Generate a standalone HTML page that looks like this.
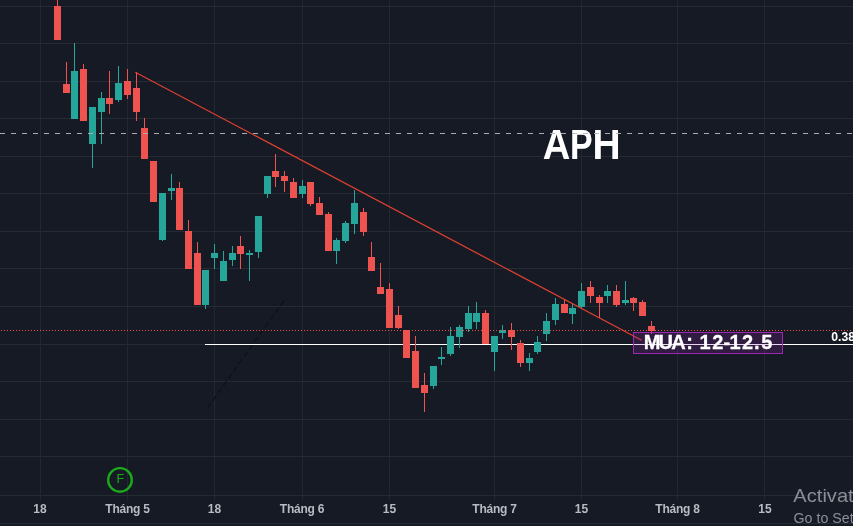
<!DOCTYPE html>
<html><head><meta charset="utf-8">
<style>
html,body{margin:0;padding:0;background:#161a25;width:853px;height:526px;overflow:hidden;}
svg{display:block;will-change:transform;}
</style></head><body>
<svg width="853" height="526" viewBox="0 0 853 526" shape-rendering="crispEdges">
<rect x="40" y="0" width="1" height="500" fill="#232732"/>
<rect x="127" y="0" width="1" height="500" fill="#232732"/>
<rect x="214" y="0" width="1" height="500" fill="#232732"/>
<rect x="302" y="0" width="1" height="500" fill="#232732"/>
<rect x="389" y="0" width="1" height="500" fill="#232732"/>
<rect x="494" y="0" width="1" height="500" fill="#232732"/>
<rect x="581" y="0" width="1" height="500" fill="#232732"/>
<rect x="677" y="0" width="1" height="500" fill="#232732"/>
<rect x="764" y="0" width="1" height="500" fill="#232732"/>
<rect x="0" y="6" width="853" height="1" fill="#262a35"/>
<rect x="0" y="43" width="853" height="1" fill="#262a35"/>
<rect x="0" y="81" width="853" height="1" fill="#262a35"/>
<rect x="0" y="118" width="853" height="1" fill="#262a35"/>
<rect x="0" y="156" width="853" height="1" fill="#262a35"/>
<rect x="0" y="193" width="853" height="1" fill="#262a35"/>
<rect x="0" y="231" width="853" height="1" fill="#262a35"/>
<rect x="0" y="268" width="853" height="1" fill="#262a35"/>
<rect x="0" y="306" width="853" height="1" fill="#262a35"/>
<rect x="0" y="344" width="853" height="1" fill="#262a35"/>
<rect x="0" y="381" width="853" height="1" fill="#262a35"/>
<rect x="0" y="419" width="853" height="1" fill="#262a35"/>
<rect x="0" y="456" width="853" height="1" fill="#262a35"/>
<rect x="0" y="495" width="853" height="1" fill="#262a35"/>
<rect x="0" y="523" width="853" height="1" fill="#262a35"/>
<line x1="284" y1="300.5" x2="205" y2="411.5" stroke="#0f1218" stroke-width="1.5" stroke-dasharray="6 3" shape-rendering="geometricPrecision"/>
<rect x="205" y="344" width="648" height="1" fill="#ffffff"/>
<rect x="57" y="0" width="1" height="40" fill="#ef5350"/>
<rect x="54" y="6" width="7" height="34" fill="#ef5350"/>
<rect x="66" y="62" width="1" height="31" fill="#ef5350"/>
<rect x="63" y="84" width="7" height="9" fill="#ef5350"/>
<rect x="74" y="43" width="1" height="76" fill="#26a69a"/>
<rect x="71" y="71" width="7" height="48" fill="#26a69a"/>
<rect x="83" y="64" width="1" height="57" fill="#ef5350"/>
<rect x="80" y="69" width="7" height="52" fill="#ef5350"/>
<rect x="92" y="107" width="1" height="61" fill="#26a69a"/>
<rect x="89" y="107" width="7" height="37" fill="#26a69a"/>
<rect x="101" y="92" width="1" height="52" fill="#26a69a"/>
<rect x="98" y="98" width="7" height="14" fill="#26a69a"/>
<rect x="109" y="71" width="1" height="43" fill="#ef5350"/>
<rect x="106" y="98" width="7" height="6" fill="#ef5350"/>
<rect x="118" y="66" width="1" height="36" fill="#26a69a"/>
<rect x="115" y="83" width="7" height="17" fill="#26a69a"/>
<rect x="127" y="69" width="1" height="30" fill="#ef5350"/>
<rect x="124" y="81" width="7" height="14" fill="#ef5350"/>
<rect x="136" y="72" width="1" height="49" fill="#ef5350"/>
<rect x="133" y="88" width="7" height="24" fill="#ef5350"/>
<rect x="144" y="118" width="1" height="41" fill="#ef5350"/>
<rect x="141" y="128" width="7" height="31" fill="#ef5350"/>
<rect x="153" y="161" width="1" height="41" fill="#ef5350"/>
<rect x="150" y="161" width="7" height="41" fill="#ef5350"/>
<rect x="162" y="193" width="1" height="48" fill="#26a69a"/>
<rect x="159" y="193" width="7" height="47" fill="#26a69a"/>
<rect x="171" y="174" width="1" height="26" fill="#26a69a"/>
<rect x="168" y="188" width="7" height="3" fill="#26a69a"/>
<rect x="179" y="182" width="1" height="48" fill="#ef5350"/>
<rect x="176" y="188" width="7" height="42" fill="#ef5350"/>
<rect x="188" y="220" width="1" height="49" fill="#ef5350"/>
<rect x="185" y="231" width="7" height="38" fill="#ef5350"/>
<rect x="197" y="242" width="1" height="63" fill="#ef5350"/>
<rect x="194" y="253" width="7" height="52" fill="#ef5350"/>
<rect x="205" y="270" width="1" height="39" fill="#26a69a"/>
<rect x="202" y="270" width="7" height="35" fill="#26a69a"/>
<rect x="214" y="244" width="1" height="25" fill="#26a69a"/>
<rect x="211" y="253" width="7" height="5" fill="#26a69a"/>
<rect x="223" y="251" width="1" height="30" fill="#26a69a"/>
<rect x="220" y="261" width="7" height="20" fill="#26a69a"/>
<rect x="232" y="246" width="1" height="20" fill="#26a69a"/>
<rect x="229" y="253" width="7" height="7" fill="#26a69a"/>
<rect x="240" y="236" width="1" height="33" fill="#ef5350"/>
<rect x="237" y="246" width="7" height="8" fill="#ef5350"/>
<rect x="249" y="250" width="1" height="31" fill="#26a69a"/>
<rect x="246" y="253" width="7" height="2" fill="#26a69a"/>
<rect x="258" y="216" width="1" height="42" fill="#26a69a"/>
<rect x="255" y="216" width="7" height="36" fill="#26a69a"/>
<rect x="267" y="176" width="1" height="22" fill="#26a69a"/>
<rect x="264" y="176" width="7" height="18" fill="#26a69a"/>
<rect x="275" y="154" width="1" height="33" fill="#ef5350"/>
<rect x="272" y="171" width="7" height="6" fill="#ef5350"/>
<rect x="284" y="171" width="1" height="21" fill="#ef5350"/>
<rect x="281" y="176" width="7" height="5" fill="#ef5350"/>
<rect x="293" y="178" width="1" height="20" fill="#ef5350"/>
<rect x="290" y="182" width="7" height="16" fill="#ef5350"/>
<rect x="302" y="180" width="1" height="18" fill="#26a69a"/>
<rect x="299" y="186" width="7" height="8" fill="#26a69a"/>
<rect x="310" y="182" width="1" height="24" fill="#ef5350"/>
<rect x="307" y="182" width="7" height="22" fill="#ef5350"/>
<rect x="319" y="197" width="1" height="18" fill="#ef5350"/>
<rect x="316" y="203" width="7" height="12" fill="#ef5350"/>
<rect x="328" y="212" width="1" height="39" fill="#ef5350"/>
<rect x="325" y="214" width="7" height="37" fill="#ef5350"/>
<rect x="336" y="238" width="1" height="26" fill="#26a69a"/>
<rect x="333" y="240" width="7" height="11" fill="#26a69a"/>
<rect x="345" y="221" width="1" height="22" fill="#26a69a"/>
<rect x="342" y="223" width="7" height="18" fill="#26a69a"/>
<rect x="354" y="190" width="1" height="44" fill="#26a69a"/>
<rect x="351" y="203" width="7" height="21" fill="#26a69a"/>
<rect x="363" y="208" width="1" height="28" fill="#ef5350"/>
<rect x="360" y="212" width="7" height="20" fill="#ef5350"/>
<rect x="371" y="242" width="1" height="29" fill="#ef5350"/>
<rect x="368" y="257" width="7" height="14" fill="#ef5350"/>
<rect x="380" y="263" width="1" height="31" fill="#ef5350"/>
<rect x="377" y="287" width="7" height="7" fill="#ef5350"/>
<rect x="389" y="283" width="1" height="45" fill="#ef5350"/>
<rect x="386" y="289" width="7" height="39" fill="#ef5350"/>
<rect x="398" y="306" width="1" height="23" fill="#ef5350"/>
<rect x="395" y="315" width="7" height="13" fill="#ef5350"/>
<rect x="406" y="330" width="1" height="28" fill="#ef5350"/>
<rect x="403" y="330" width="7" height="28" fill="#ef5350"/>
<rect x="415" y="336" width="1" height="52" fill="#ef5350"/>
<rect x="412" y="351" width="7" height="37" fill="#ef5350"/>
<rect x="424" y="373" width="1" height="39" fill="#ef5350"/>
<rect x="421" y="385" width="7" height="8" fill="#ef5350"/>
<rect x="433" y="366" width="1" height="23" fill="#26a69a"/>
<rect x="430" y="366" width="7" height="20" fill="#26a69a"/>
<rect x="441" y="347" width="1" height="18" fill="#26a69a"/>
<rect x="438" y="357" width="7" height="2" fill="#26a69a"/>
<rect x="450" y="327" width="1" height="29" fill="#26a69a"/>
<rect x="447" y="336" width="7" height="18" fill="#26a69a"/>
<rect x="459" y="325" width="1" height="23" fill="#26a69a"/>
<rect x="456" y="327" width="7" height="10" fill="#26a69a"/>
<rect x="468" y="306" width="1" height="26" fill="#26a69a"/>
<rect x="465" y="313" width="7" height="16" fill="#26a69a"/>
<rect x="476" y="302" width="1" height="27" fill="#26a69a"/>
<rect x="473" y="313" width="7" height="9" fill="#26a69a"/>
<rect x="485" y="310" width="1" height="34" fill="#ef5350"/>
<rect x="482" y="313" width="7" height="31" fill="#ef5350"/>
<rect x="494" y="336" width="1" height="35" fill="#26a69a"/>
<rect x="491" y="336" width="7" height="16" fill="#26a69a"/>
<rect x="502" y="325" width="1" height="14" fill="#26a69a"/>
<rect x="499" y="330" width="7" height="3" fill="#26a69a"/>
<rect x="511" y="323" width="1" height="27" fill="#ef5350"/>
<rect x="508" y="330" width="7" height="7" fill="#ef5350"/>
<rect x="520" y="340" width="1" height="27" fill="#ef5350"/>
<rect x="517" y="343" width="7" height="20" fill="#ef5350"/>
<rect x="529" y="353" width="1" height="18" fill="#26a69a"/>
<rect x="526" y="358" width="7" height="5" fill="#26a69a"/>
<rect x="537" y="336" width="1" height="18" fill="#26a69a"/>
<rect x="534" y="342" width="7" height="10" fill="#26a69a"/>
<rect x="546" y="313" width="1" height="28" fill="#26a69a"/>
<rect x="543" y="321" width="7" height="13" fill="#26a69a"/>
<rect x="555" y="298" width="1" height="27" fill="#26a69a"/>
<rect x="552" y="304" width="7" height="16" fill="#26a69a"/>
<rect x="564" y="300" width="1" height="13" fill="#ef5350"/>
<rect x="561" y="304" width="7" height="9" fill="#ef5350"/>
<rect x="572" y="303" width="1" height="21" fill="#26a69a"/>
<rect x="569" y="308" width="7" height="6" fill="#26a69a"/>
<rect x="581" y="283" width="1" height="26" fill="#26a69a"/>
<rect x="578" y="291" width="7" height="16" fill="#26a69a"/>
<rect x="590" y="281" width="1" height="22" fill="#ef5350"/>
<rect x="587" y="287" width="7" height="9" fill="#ef5350"/>
<rect x="599" y="295" width="1" height="23" fill="#ef5350"/>
<rect x="596" y="297" width="7" height="6" fill="#ef5350"/>
<rect x="607" y="285" width="1" height="18" fill="#26a69a"/>
<rect x="604" y="291" width="7" height="5" fill="#26a69a"/>
<rect x="616" y="285" width="1" height="22" fill="#ef5350"/>
<rect x="613" y="291" width="7" height="14" fill="#ef5350"/>
<rect x="625" y="281" width="1" height="24" fill="#26a69a"/>
<rect x="622" y="300" width="7" height="3" fill="#26a69a"/>
<rect x="633" y="297" width="1" height="14" fill="#ef5350"/>
<rect x="630" y="298" width="7" height="5" fill="#ef5350"/>
<rect x="642" y="300" width="1" height="16" fill="#ef5350"/>
<rect x="639" y="302" width="7" height="14" fill="#ef5350"/>
<rect x="651" y="321" width="1" height="13" fill="#ef5350"/>
<rect x="648" y="326" width="7" height="5" fill="#ef5350"/>
<line x1="0" y1="133.5" x2="853" y2="133.5" stroke="#a9acb3" stroke-width="1" stroke-dasharray="5 6"/>
<line x1="1" y1="330.5" x2="853" y2="330.5" stroke="#f0514a" stroke-width="1" stroke-dasharray="1 2"/>
<line x1="135.3" y1="72.2" x2="641.6" y2="340.3" stroke="#dd4030" stroke-width="1.25" shape-rendering="auto"/>
<text transform="translate(542.85,159) scale(0.9,1)" font-family="Liberation Sans" font-weight="bold" font-size="42.4" fill="#ffffff">A</text>
<text transform="translate(570.0,159) scale(0.8,1)" font-family="Liberation Sans" font-weight="bold" font-size="42.4" fill="#ffffff">P</text>
<text transform="translate(592.45,159) scale(0.92,1)" font-family="Liberation Sans" font-weight="bold" font-size="42.4" fill="#ffffff">H</text>
<line x1="0" y1="133.5" x2="853" y2="133.5" stroke="#a9acb3" stroke-width="1" stroke-dasharray="5 6" stroke-opacity="0.8"/>
<rect x="633.5" y="332.5" width="149" height="21" fill="rgba(156,39,176,0.2)" stroke="#9c27b0" stroke-width="1"/>
<text x="643.7 658.6 671.15 686.3 693 699.6 712.15 723.5 729.5 742.0 753.9 761.25" y="348.5" font-family="Liberation Sans" font-weight="bold" font-size="20" fill="#ffffff" stroke="#ffffff" stroke-width="0.3">MUA: 12-12.5</text>
<text x="831.3" y="341" font-family="Liberation Sans" font-weight="bold" font-size="12.2" fill="#ffffff">0.38</text>
<circle cx="120" cy="479.9" r="11.8" fill="none" stroke="#1aab1a" stroke-width="2.4" shape-rendering="geometricPrecision"/>
<text x="120.3" y="483" text-anchor="middle" font-family="Liberation Sans" font-size="12.5" fill="#1aab1a">F</text>
<text x="40" y="513" text-anchor="middle" font-family="Liberation Sans" font-weight="bold" font-size="12" fill="#b8bbc2">18</text>
<text x="127.5" y="513" text-anchor="middle" font-family="Liberation Sans" font-weight="bold" font-size="12" letter-spacing="-0.22" fill="#b8bbc2">Tháng 5</text>
<text x="214.5" y="513" text-anchor="middle" font-family="Liberation Sans" font-weight="bold" font-size="12" fill="#b8bbc2">18</text>
<text x="302" y="513" text-anchor="middle" font-family="Liberation Sans" font-weight="bold" font-size="12" letter-spacing="-0.22" fill="#b8bbc2">Tháng 6</text>
<text x="389.5" y="513" text-anchor="middle" font-family="Liberation Sans" font-weight="bold" font-size="12" fill="#b8bbc2">15</text>
<text x="494.5" y="513" text-anchor="middle" font-family="Liberation Sans" font-weight="bold" font-size="12" letter-spacing="-0.22" fill="#b8bbc2">Tháng 7</text>
<text x="581.5" y="513" text-anchor="middle" font-family="Liberation Sans" font-weight="bold" font-size="12" fill="#b8bbc2">15</text>
<text x="677.5" y="513" text-anchor="middle" font-family="Liberation Sans" font-weight="bold" font-size="12" letter-spacing="-0.22" fill="#b8bbc2">Tháng 8</text>
<text x="765" y="513" text-anchor="middle" font-family="Liberation Sans" font-weight="bold" font-size="12" fill="#b8bbc2">15</text>
<text transform="translate(793.3,502) scale(1.06,1)" font-family="Liberation Sans" font-size="19" fill="#8b8e95">Activate Windows</text>
<text transform="translate(793.5,522.8) scale(0.99,1)" font-family="Liberation Sans" font-size="14.4" fill="#8b8e95">Go to Settings to activate Windows.</text>
</svg>
</body></html>
